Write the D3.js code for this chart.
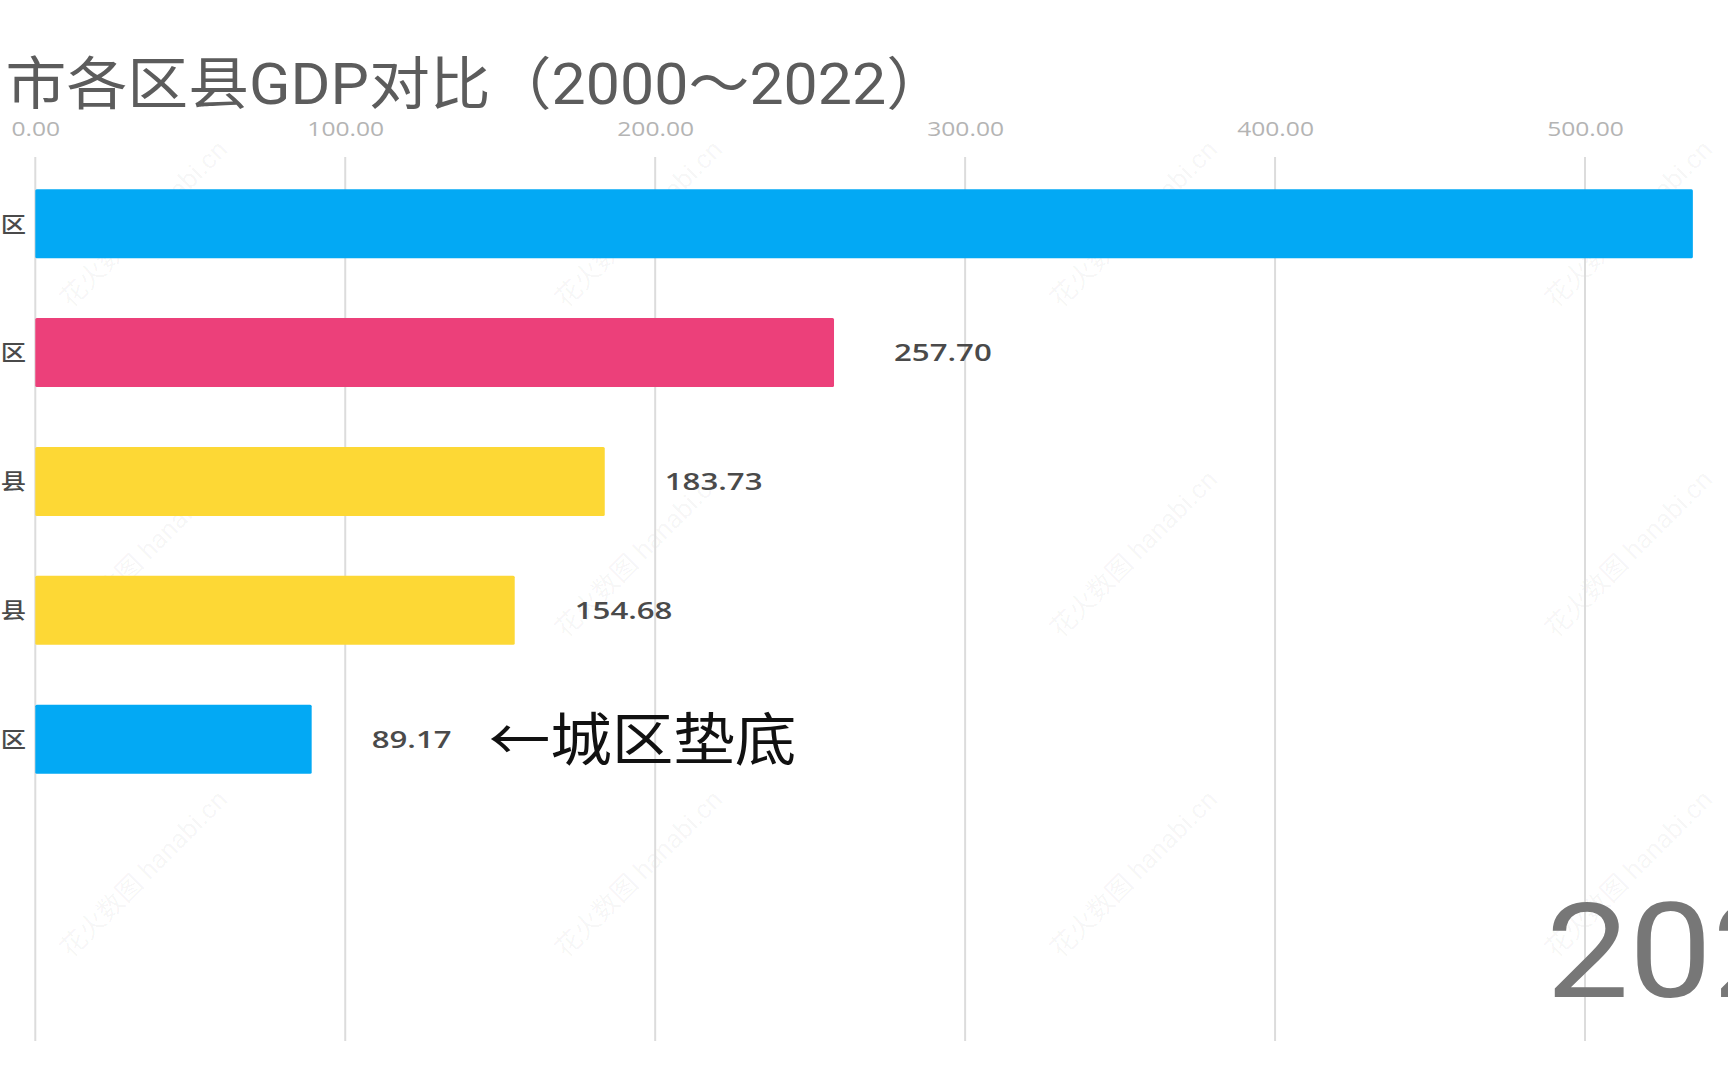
<!DOCTYPE html>
<html><head><meta charset="utf-8">
<script src="https://cdn.jsdelivr.net/npm/d3@7"></script>
<style>
html,body{margin:0;padding:0;background:#fff;overflow:hidden}
svg{display:block}
</style></head>
<body>
<svg id="chart" width="1728" height="1080"></svg>
<script>
// ---- data ----
const labels = ["区", "区", "县", "县", "区"];
const values = [534.80, 257.70, 183.73, 154.68, 89.17];
const barColors = ["#03A9F4", "#EC407A", "#FDD835", "#FDD835", "#03A9F4"];
const tickValues = [0, 100, 200, 300, 400, 500];
const titleText = "市各区县GDP对比（2000～2022）";
const yearText = "2022";
const noteText = "←城区垫底";
const noteIndex = 4;
const watermarkText = "花火数图 hanabi.cn";

// ---- layout ----
const svg = d3.select("#chart");
const numFont = "'Open Sans', 'Noto Sans', sans-serif";
const cjkFont = "Roboto, 'Noto Sans CJK SC', sans-serif";

const x = d3.scaleLinear().domain([0, 500]).range([35.3, 1585]);
const y = d3.scaleBand().domain(d3.range(values.length))
  .range([159.2, 159.2 + 128.9 * values.length]).paddingInner(0.465).paddingOuter(0.2325);

// watermarks
const wm = svg.append("g");
[[230, 230], [725, 230], [1220, 230], [1715, 230],
 [230, 560], [725, 560], [1220, 560], [1715, 560],
 [230, 880], [725, 880], [1220, 880], [1715, 880]].forEach(p => {
  wm.append("text").attr("transform", `translate(${p[0] - 80},${p[1]}) rotate(-45)`)
    .attr("text-anchor", "middle").attr("font-family", cjkFont).attr("font-size", 26)
    .attr("fill", "#000").attr("fill-opacity", 0.045).text(watermarkText);
});

// tick labels via axis
const axis = d3.axisTop(x).tickValues(tickValues).tickFormat(d3.format(".2f")).tickSize(0);
const gAxis = svg.append("g").attr("transform", "translate(0,129)").call(axis);
gAxis.select(".domain").remove();
gAxis.selectAll("text").attr("y", 0).attr("dy", "0.35em")
  .attr("font-family", numFont).attr("font-size", 20).attr("fill", "#b4b4b4")
  .attr("transform", "scale(1.23,1)");
// gridlines
svg.append("g").selectAll("line").data(tickValues).join("line")
  .attr("x1", d => x(d)).attr("x2", d => x(d)).attr("y1", 157).attr("y2", 1041)
  .attr("stroke", "#dcdcdc").attr("stroke-width", 2);

// bars
svg.append("g").selectAll("rect").data(values).join("rect")
  .attr("x", x(0)).attr("y", (d, i) => y(i))
  .attr("width", d => x(d) - x(0)).attr("height", y.bandwidth())
  .attr("fill", (d, i) => barColors[i]).attr("rx", 1.5);

// category labels
svg.append("g").selectAll("text").data(labels).join("text")
  .attr("transform", (d, i) => `translate(26,${y(i) + y.bandwidth() / 2}) scale(1.15,1)`)
  .attr("text-anchor", "end").attr("dy", "0.36em")
  .attr("font-family", cjkFont).attr("font-size", 22).attr("font-weight", 500)
  .attr("fill", "#4a4a4a").text(d => d);

// value labels
svg.append("g").selectAll("text").data(values).join("text")
  .attr("transform", (d, i) => `translate(${x(d) + 60},${y(i) + y.bandwidth() / 2}) scale(1.3,1)`)
  .attr("dy", "0.35em").attr("font-family", numFont).attr("font-size", 24)
  .attr("font-weight", 600).attr("fill", "#4a4a4a").text(d => d3.format(".2f")(d));

// annotation
svg.append("text")
  .attr("transform", `translate(${x(values[noteIndex]) + 177},${y(noteIndex) + y.bandwidth() / 2}) scale(1.08,1)`)
  .attr("dy", "0.36em").attr("font-family", "'Noto Sans CJK SC', sans-serif")
  .attr("font-size", 57).attr("fill", "#111").text(noteText);

// title
const title = svg.append("text").attr("font-family", cjkFont).attr("font-size", 57)
  .attr("fill", "#5c5c5c").text(titleText);
const tl = title.node().getComputedTextLength();
title.attr("transform", `translate(5.5,104) scale(${942 / tl},1)`);

// year
svg.append("text").attr("transform", `translate(1546,997) scale(1.12,1)`)
  .attr("font-family", "Roboto, sans-serif").attr("font-size", 132)
  .attr("fill", "#777").text(yearText);
</script>
</body></html>
